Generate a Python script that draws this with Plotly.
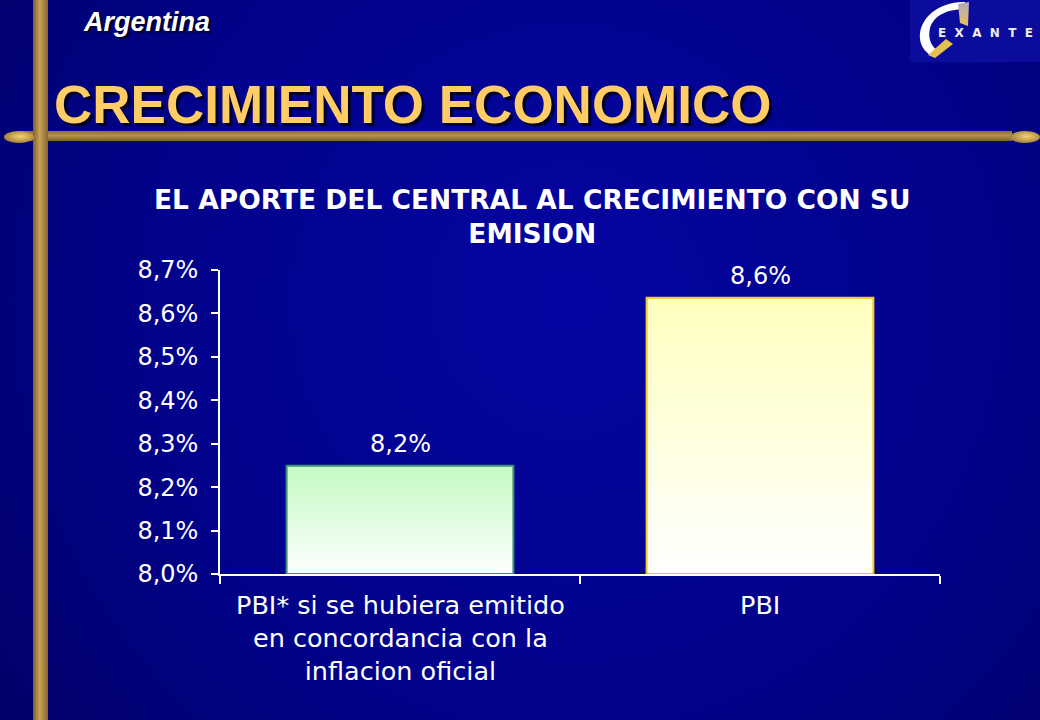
import base64
import plotly.graph_objects as go

# ---------------- data ----------------
categories = [
    "PBI* si se hubiera emitido<br>en concordancia con la<br>inflacion oficial",
    "PBI",
]
values = [8.249, 8.636]
y_ticks = [8.0, 8.1, 8.2, 8.3, 8.4, 8.5, 8.6, 8.7]
chart_title = "EL APORTE DEL CENTRAL AL CRECIMIENTO CON SU<br>EMISION"
page_title = "CRECIMIENTO ECONOMICO"
country = "Argentina"
logo_text = "EXANTE"

# ---------------- styles ----------------
bar_top_colors = ["#c4fbc4", "#ffffbf"]
bar_line_colors = ["#3f8f78", "#f2c72a"]
bar_width = 0.63

W, H = 1040, 720
L, R, T, B = 220, 100, 270, 146
pw, ph = W - L - R, H - T - B


def px(xp):
    return (xp - L) / pw


def py(yp):
    return (H - B - yp) / ph


def fmt(v):
    return f"{v:.1f}".replace(".", ",") + "%"


svg = """<svg xmlns='http://www.w3.org/2000/svg' width='1040' height='720' viewBox='0 0 1040 720' preserveAspectRatio='none'>
<defs>
<radialGradient id='bg' cx='570' cy='300' r='700' gradientUnits='userSpaceOnUse'>
<stop offset='0' stop-color='#0505a2'/><stop offset='0.6' stop-color='#02028a'/><stop offset='1' stop-color='#00006a'/></radialGradient>
<linearGradient id='gv' x1='0' y1='0' x2='1' y2='0'>
<stop offset='0' stop-color='#7a5f2e'/><stop offset='0.45' stop-color='#c9a257'/><stop offset='1' stop-color='#86682f'/></linearGradient>
<linearGradient id='gh' x1='0' y1='0' x2='0' y2='1'>
<stop offset='0' stop-color='#8a6c35'/><stop offset='0.45' stop-color='#b8924c'/><stop offset='1' stop-color='#7a5f2e'/></linearGradient>
<radialGradient id='kn' cx='0.55' cy='0.45' r='0.6'>
<stop offset='0' stop-color='#f6d26e'/><stop offset='1' stop-color='#9c7a38'/></radialGradient>
<linearGradient id='tip' x1='0' y1='0' x2='0' y2='1'>
<stop offset='0' stop-color='#b0a8c8'/><stop offset='1' stop-color='#e8c050'/></linearGradient>
</defs>
<rect width='1040' height='720' fill='url(#bg)'/>
<rect x='910' y='0' width='130' height='62' fill='#0c0c9c'/>
<path d='M 965 2 C 940 1 918 18 920 39 C 921 48 927 54 934 57 L 937 50 C 930 45 928 37 930 28 C 934 15 948 9 966 9 Z' fill='#ffffff'/>
<path d='M 958 4 L 969 2 L 968 26 L 960 23 Z' fill='url(#tip)'/>
<path d='M 928 55 L 946 39 L 953 44 L 935 58 Z' fill='#e8c050'/>
<rect x='20' y='131' width='992' height='10' fill='url(#gh)'/>
<rect x='33' y='0' width='15' height='720' fill='url(#gv)'/>
<ellipse cx='19' cy='137' rx='15' ry='6' fill='url(#kn)'/>
<ellipse cx='1025' cy='137' rx='15' ry='6' fill='url(#kn)'/>
</svg>"""
svg_uri = "data:image/svg+xml;base64," + base64.b64encode(svg.encode()).decode()

fig = go.Figure()

base = y_ticks[0]
for i, v in enumerate(values):
    x0, x1 = i - bar_width / 2, i + bar_width / 2
    fig.add_trace(go.Scatter(
        x=[x0, x0, x1, x1, x0],
        y=[base, v, v, base, base],
        mode="lines",
        fill="toself",
        fillgradient=dict(type="vertical",
                          colorscale=[[0, "#ffffff"], [1, bar_top_colors[i]]]),
        line=dict(color=bar_line_colors[i], width=2),
        hoverinfo="skip",
        showlegend=False,
    ))

annotations = []
# data labels
for i, v in enumerate(values):
    annotations.append(dict(x=i, y=v, xref="x", yref="y", text=fmt(v),
                            showarrow=False, yanchor="bottom", yshift=6,
                            font=dict(family="DejaVu Sans", size=24, color="white")))
# category labels
for i, c in enumerate(categories):
    annotations.append(dict(x=i, y=0, xref="x", yref="paper", text=c,
                            showarrow=False, yanchor="top", yshift=-14,
                            font=dict(family="DejaVu Sans", size=25.5, color="white")))
# chart title
annotations.append(dict(x=px(532), y=py(217), xref="paper", yref="paper",
                        text="<b>" + chart_title + "</b>", showarrow=False,
                        xanchor="center", yanchor="middle",
                        font=dict(family="DejaVu Sans", size=26.5, color="white")))
# page title with shadow
annotations.append(dict(x=px(52), y=py(104), xref="paper", yref="paper",
                        text="<b>" + page_title + "</b>", showarrow=False,
                        xanchor="left", yanchor="middle",
                        font=dict(family="Liberation Sans", size=53, color="#ffcc66",
                                  shadow="3px 3px 1px #000028")))
annotations.append(dict(x=px(81), y=py(22), xref="paper", yref="paper",
                        text="<b><i>" + country + "</i></b>", showarrow=False,
                        xanchor="left", yanchor="middle",
                        font=dict(family="Liberation Sans", size=27, color="#ffffff",
                                  shadow="2px 2px 1px #000028")))
# logo text
annotations.append(dict(x=px(936), y=py(33), xref="paper", yref="paper",
                        text="<b>" + "\u00a0\u00a0".join(logo_text) + "</b>", showarrow=False,
                        xanchor="left", yanchor="middle",
                        font=dict(family="DejaVu Sans", size=12, color="#f0f0f0")))

fig.update_layout(
    width=W, height=H,
    margin=dict(l=L, r=R, t=T, b=B, autoexpand=False),
    paper_bgcolor="#000080",
    plot_bgcolor="rgba(0,0,0,0)",
    showlegend=False,
    annotations=annotations,
    images=[dict(source=svg_uri, xref="paper", yref="paper",
                 x=px(0), y=py(0), sizex=W / pw, sizey=H / ph,
                 xanchor="left", yanchor="top", sizing="stretch", layer="below")],
    xaxis=dict(range=[-0.5, 1.5], tickvals=[-0.5, 0.5, 1.5], showticklabels=False,
               ticks="outside", ticklen=8, tickcolor="white", tickwidth=1.5,
               showline=True, linecolor="white", linewidth=1.5,
               showgrid=False, zeroline=False, fixedrange=True),
    yaxis=dict(range=[y_ticks[0], y_ticks[-1]], tickvals=y_ticks,
               ticktext=[fmt(v) for v in y_ticks],
               ticks="outside", ticklen=7, tickcolor="white", tickwidth=1.5,
               showline=True, linecolor="white", linewidth=1.5,
               showgrid=False, zeroline=False, fixedrange=True,
               ticklabelstandoff=8,
               tickfont=dict(family="DejaVu Sans", size=24, color="white")),
)

fig.write_html("out.html", config={"displayModeBar": False},
               post_script="document.body.style.margin='0';")
